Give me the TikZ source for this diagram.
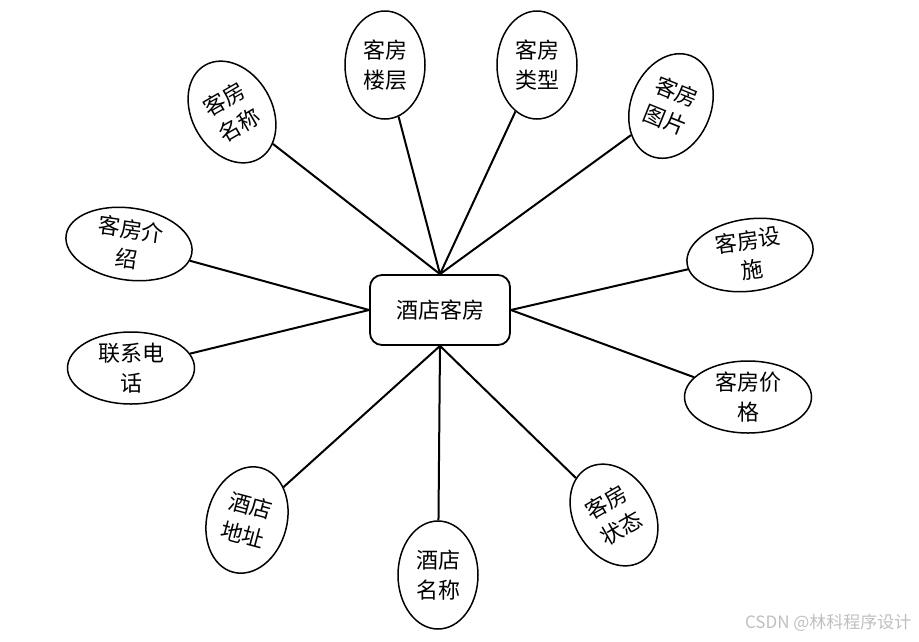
\documentclass[tikz,border=0pt]{standalone}
\usepackage{fontspec}
\setmainfont{Noto Sans CJK SC}
\usetikzlibrary{shapes.geometric}

\begin{document}
\begin{tikzpicture}[x=1pt, y=-1pt,
    attr/.style={draw, ellipse, line width=1.5pt, inner sep=0pt, align=center,
        font=\fontsize{22}{30}\selectfont},
    tall/.style={attr, minimum width=80pt, minimum height=108pt},
    wide/.style={attr, minimum width=127pt, minimum height=72pt},
    link/.style={line width=2pt}]
    \useasboundingbox (0,0) rectangle (919,641);

    % entity
    \node[draw, rounded corners=12pt, line width=1.8pt, minimum width=140pt,
        minimum height=70pt, font=\fontsize{22}{28}\selectfont] (room) at (440,310) {酒店客房};

    % attributes
    \node[tall, rotate=30]  (name)     at (232,112) {客房\\名称};
    \node[tall]             (floor)    at (385,65)  {客房\\楼层};
    \node[tall]             (type)     at (537,65)  {客房\\类型};
    \node[tall, rotate=-22] (photo)    at (671,106) {客房\\图片};
    \node[wide, rotate=8]   (facility) at (750,255) {客房设\\施};
    \node[wide]             (price)    at (748,397) {客房价\\格};
    \node[tall, rotate=30]  (status)   at (614,515) {客房\\状态};
    \node[tall]             (hname)    at (438,575) {酒店\\名称};
    \node[tall, rotate=-15] (addr)     at (247,520) {酒店\\地址};
    \node[wide]             (phone)    at (131,368) {联系电\\话};
    \node[wide, rotate=-8]  (intro)    at (129,244) {客房介\\绍};

    \foreach \a in {name,floor,type,photo}
        \draw[link] (room.north) -- (\a);
    \foreach \a in {facility,price}
        \draw[link] (room.east) -- (\a);
    \foreach \a in {status,hname,addr}
        \draw[link] (room.south) -- (\a);
    \foreach \a in {phone,intro}
        \draw[link] (room.west) -- (\a);

    \node[text=black!25, font=\fontsize{17}{20}\selectfont, anchor=east] (mark) at (915,623) {CSDN @林科程序设计};
\end{tikzpicture}
\end{document}
